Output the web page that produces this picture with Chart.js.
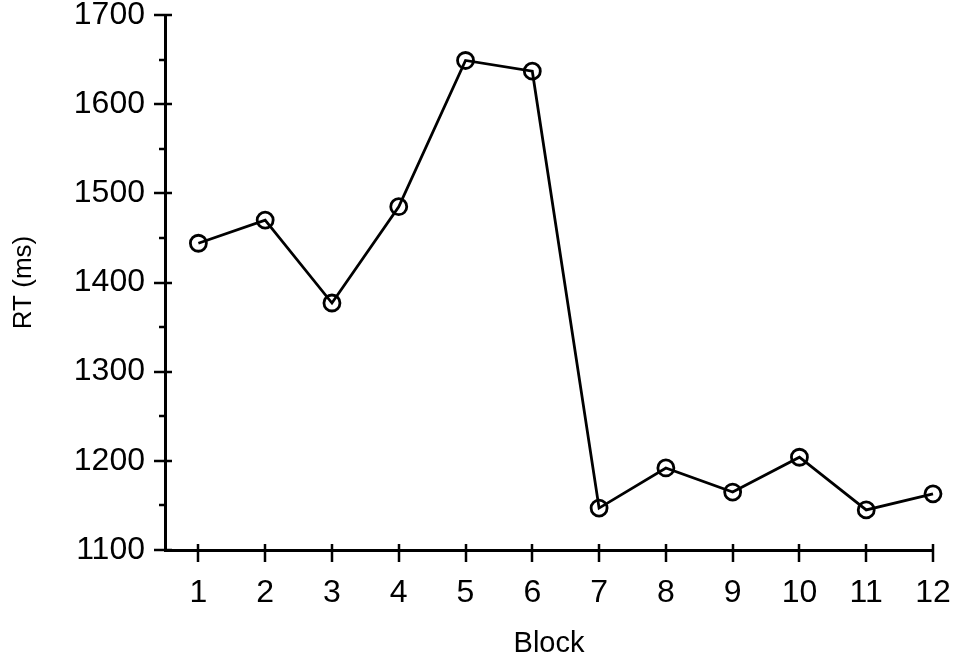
<!DOCTYPE html>
<html>
<head>
<meta charset="utf-8">
<script src="https://cdn.jsdelivr.net/npm/chart.js@4"></script>
<style>
  body { margin: 0; background: #fff; }
</style>
</head>
<body>
<canvas id="myChart" width="956" height="657"></canvas>
<script>
const blocks = [1, 2, 3, 4, 5, 6, 7, 8, 9, 10, 11, 12]
const rtMs = [1444, 1470, 1377, 1485, 1649, 1637, 1147, 1192, 1165, 1204, 1145, 1163]
const yMin = 1100
const yMax = 1700
const fontFam = "'Liberation Sans', Arial, Helvetica, sans-serif"

// tick marks that cross the axis line (Chart.js only draws them outward)
const tickMarks = {
    id: "tickMarks",
    afterDraw(chart) {
        const ctx = chart.ctx
        const xs = chart.scales.x
        const ys = chart.scales.y
        ctx.save()
        ctx.strokeStyle = "#000"
        ctx.lineWidth = 2.5
        ctx.beginPath()
        xs.ticks.forEach((t) => {
            const px = Math.round(xs.getPixelForValue(t.value))
            ctx.moveTo(px, xs.top - 6)
            ctx.lineTo(px, xs.top + 12)
        })
        ys.ticks.forEach((t) => {
            const py = Math.round(ys.getPixelForValue(t.value))
            const major = t.value % 100 === 0
            ctx.moveTo(ys.right - (major ? 11 : 6), py)
            ctx.lineTo(ys.right + (major ? 7 : 0), py)
        })
        ctx.stroke()
        ctx.restore()
    }
}

const data = {
    datasets: [
        {
            label: "RT",
            data: blocks.map((b, i) => ({ x: b, y: rtMs[i] })),
            borderColor: "#000",
            borderWidth: 2.8,
            pointRadius: 8,
            pointBorderWidth: 2.8,
            pointBackgroundColor: "rgba(0,0,0,0)",
            pointBorderColor: "#000",
            tension: 0,
            clip: false
        }
    ]
}

const config = {
    type: "line",
    data,
    options: {
        responsive: false,
        animation: false,
        layout: { padding: { left: 0, right: 23, top: 15, bottom: 0 } },
        plugins: {
            legend: { display: false },
            tooltip: { enabled: false }
        },
        scales: {
            x: {
                type: "linear",
                min: 0.5,
                max: 12,
                afterBuildTicks: (axis) => {
                    axis.ticks = blocks.map((b) => ({ value: b }))
                },
                afterFit: (axis) => {
                    axis.height = 107
                    axis.paddingLeft = 0
                    axis.paddingRight = 0
                },
                grid: { color: "rgba(0,0,0,0)", drawOnChartArea: false, tickLength: 12 },
                border: { display: true, color: "#000", width: 3 },
                ticks: {
                    color: "#000",
                    padding: 12,
                    autoSkip: false,
                    maxRotation: 0,
                    font: { family: fontFam, size: 32 }
                },
                title: {
                    display: true,
                    text: "Block",
                    color: "#000",
                    padding: { top: 0, bottom: -1 },
                    font: { family: fontFam, size: 29, lineHeight: 1 }
                }
            },
            y: {
                min: yMin,
                max: yMax,
                afterFit: (axis) => {
                    axis.width = 165
                    axis.paddingTop = 0
                    axis.paddingBottom = 0
                },
                grid: { color: "rgba(0,0,0,0)", drawOnChartArea: false, tickLength: 12 },
                border: { display: true, color: "#000", width: 3 },
                ticks: {
                    stepSize: 50,
                    color: "#000",
                    padding: 8,
                    autoSkip: false,
                    font: { family: fontFam, size: 32 },
                    callback: (v) => (v % 100 === 0 ? v : "")
                },
                title: {
                    display: true,
                    text: "RT (ms)",
                    color: "#000",
                    padding: { top: 11, bottom: 0 },
                    font: { family: fontFam, size: 26, lineHeight: 1 }
                }
            }
        }
    },
    plugins: [tickMarks]
}

const myChart = new Chart(document.querySelector("#myChart"), config)
</script>
</body>
</html>
